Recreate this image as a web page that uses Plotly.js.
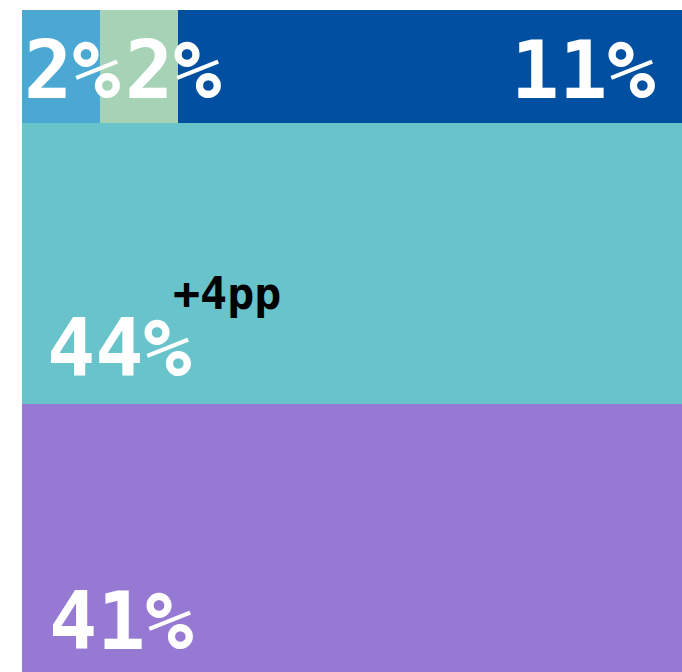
<!DOCTYPE html>
<html>
<head>
<meta charset="utf-8">
<script src="https://cdn.plot.ly/plotly-3.0.1.min.js"></script>
<style>html,body{margin:0;padding:0;background:#fff;}#chart{width:682px;height:672px;}</style>
</head>
<body>
<div id="chart"></div>
<script>
// Row heights (share of total height, %), from top to bottom
const rowNames = ["Top group", "Middle", "Bottom"];
const rowHeights = [17.1, 42.4, 40.5];
// Split of the top row (share of its width, %)
const topNames = ["A", "B", "C"];
const topWidths = [11.8, 11.8, 76.4];
// Displayed labels
const topLabels = ["2%", "2%", "11%"];
const middleLabel = "44%";
const bottomLabel = "41%";
const middleChange = "+4pp";

const topColors = ["#4aa8d3", "#a6d2b6", "#004fa0"];
const middleColor = "#68c3cb";
const bottomColor = "#9579d3";

const traces = [];
// bottom row
const bottomBase = 0;
traces.push({type: "bar", x: [50], width: [100], base: [bottomBase], y: [rowHeights[2]],
  marker: {color: bottomColor, line: {width: 0}}, name: rowNames[2], hoverinfo: "none"});
// middle row
const midBase = rowHeights[2];
traces.push({type: "bar", x: [50], width: [100], base: [midBase], y: [rowHeights[1]],
  marker: {color: middleColor, line: {width: 0}}, name: rowNames[1], hoverinfo: "none"});
// top row
const topBase = rowHeights[2] + rowHeights[1];
let cum = 0;
topWidths.forEach((w, i) => {
  traces.push({type: "bar", x: [cum + w / 2], width: [w], base: [topBase], y: [rowHeights[0]],
    marker: {color: topColors[i], line: {width: 0}}, name: topNames[i], hoverinfo: "none"});
  cum += w;
});

const bigFont = {family: "DejaVu Sans Mono", size: 80, color: "#ffffff", weight: 700};
const ann = (text, x, y, xanchor, font) => ({text, x, y, xref: "paper", yref: "paper",
  xanchor, yanchor: "middle", showarrow: false, font});

const layout = {
  width: 682, height: 672,
  margin: {l: 22, r: 0, t: 10, b: 0, pad: 0},
  paper_bgcolor: "#ffffff", plot_bgcolor: "#ffffff",
  barmode: "overlay", bargap: 0, showlegend: false,
  xaxis: {range: [0, 100], visible: false, fixedrange: true},
  yaxis: {range: [0, 100], visible: false, fixedrange: true},
  annotations: [
    ann(topLabels[0], 0.0, 0.908, "left", bigFont),
    ann(topLabels[1], 0.153, 0.908, "left", bigFont),
    ann(topLabels[2], 0.963, 0.908, "right", bigFont),
    ann(middleLabel, 0.035, 0.488, "left", bigFont),
    ann(middleChange, 0.226, 0.571, "left", {family: "DejaVu Sans Mono", size: 45, color: "#000000", weight: 700}),
    ann(bottomLabel, 0.038, 0.077, "left", bigFont)
  ]
};

Plotly.newPlot("chart", traces, layout, {displayModeBar: false, staticPlot: true});
</script>
</body>
</html>
